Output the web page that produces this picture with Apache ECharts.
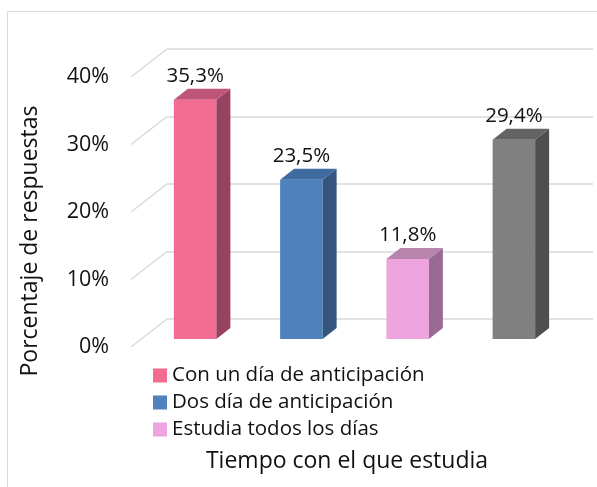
<!DOCTYPE html>
<html>
<head>
<meta charset="utf-8">
<script src="https://cdn.jsdelivr.net/npm/echarts@6/dist/echarts.min.js"></script>
<style>
  html, body { margin: 0; padding: 0; background: #fff; }
  #chart { width: 597px; height: 487px; }
</style>
</head>
<body>
<div id="chart"></div>
<script>
// data
var categories = ['Con un día de anticipación', 'Dos día de anticipación', 'Estudia todos los días', ''];
var values = [35.3, 23.5, 11.8, 29.4];
var yTicks = [0, 10, 20, 30, 40];

// front / top / side colours of each 3D bar
var barColors = [
  ['#F26B90', '#BF5579', '#984262'],
  ['#4F81BD', '#3F6BA1', '#34557F'],
  ['#EEA5DF', '#B884AE', '#9B6A93'],
  ['#808080', '#636363', '#4F4F4F']
];

var FONT = 'Open Sans';
var depth = [14, -11];      // bar depth offset
var wallDepth = [36, -28];  // floor front -> back wall

function fmt(v) {
  return v.toFixed(1).replace('.', ',') + '%';
}

function barRenderer(col) {
  return function (params, api) {
    var base = api.coord([api.value(0), 0]);
    var top = api.coord([api.value(0), api.value(1)]);
    var w = api.size([1, 0])[0] * 0.4;
    var x0 = base[0] - w / 2, x1 = base[0] + w / 2;
    var dx = depth[0], dy = depth[1];
    return {
      type: 'group',
      children: [
        { type: 'rect', shape: { x: x0, y: top[1], width: w, height: base[1] - top[1] }, style: { fill: col[0] } },
        { type: 'polygon', shape: { points: [[x1, top[1]], [x1 + dx, top[1] + dy], [x1 + dx, base[1] + dy], [x1, base[1]]] }, style: { fill: col[2] } },
        { type: 'polygon', shape: { points: [[x0, top[1]], [x0 + dx, top[1] + dy], [x1 + dx, top[1] + dy], [x1, top[1]]] }, style: { fill: col[1] } },
        { type: 'text', x: base[0], y: top[1] + dy - 2,
          style: { text: fmt(api.value(1)), align: 'center', verticalAlign: 'bottom', fontFamily: FONT, fontSize: 20.5, fill: '#111' } }
      ]
    };
  };
}

var series = categories.map(function (name, i) {
  return {
    name: name,
    type: 'custom',
    xAxisIndex: 0,
    yAxisIndex: 0,
    itemStyle: { color: barColors[i][0] },
    renderItem: barRenderer(barColors[i]),
    data: [[i, values[i]]]
  };
});

// diagonal floor-to-wall gridline stubs
series.push({
  type: 'custom',
  xAxisIndex: 1,
  yAxisIndex: 1,
  silent: true,
  z: 0,
  renderItem: function (params, api) {
    var p = api.coord([0, api.value(1)]);
    return {
      type: 'line',
      shape: { x1: p[0], y1: p[1], x2: p[0] + wallDepth[0], y2: p[1] + wallDepth[1] },
      style: { stroke: '#d9d9d9', lineWidth: 1.5 }
    };
  },
  data: yTicks.map(function (v) { return [0, v]; })
});

var chart = echarts.init(document.getElementById('chart'));
chart.setOption({
  animation: false,
  backgroundColor: '#fff',
  grid: [
    { left: 142, right: 30, top: 68, bottom: 148 },   // bar front plane
    { left: 131, right: 30, top: 77, bottom: 140 },   // floor front (labels)
    { left: 167, right: 4, top: 49, bottom: 168 }     // back wall
  ],
  xAxis: [
    { gridIndex: 0, type: 'category', data: categories, show: false },
    { gridIndex: 1, type: 'value', min: 0, max: 1, show: false },
    { gridIndex: 2, type: 'value', min: 0, max: 1, show: false }
  ],
  yAxis: [
    { gridIndex: 0, type: 'value', min: 0, max: 40, interval: 10, show: false },
    { gridIndex: 1, type: 'value', min: 0, max: 40, interval: 10,
      axisLine: { show: false }, axisTick: { show: false }, splitLine: { show: false },
      axisLabel: { formatter: '{value}%', margin: 22, fontFamily: FONT, fontSize: 21.5, color: '#111' } },
    { gridIndex: 2, type: 'value', min: 0, max: 40, interval: 10,
      axisLine: { show: false }, axisTick: { show: false }, axisLabel: { show: false },
      splitLine: { show: true, lineStyle: { color: '#d9d9d9', width: 1.5 } } }
  ],
  legend: {
    data: categories.slice(0, 3),
    orient: 'vertical',
    left: 148,
    top: 360,
    itemWidth: 14,
    itemHeight: 14,
    itemGap: 6,
    icon: 'rect',
    textStyle: { fontFamily: FONT, fontSize: 20.5, lineHeight: 20, color: '#111' }
  },
  graphic: [
    { type: 'rect', shape: { x: 7.5, y: 11.5, width: 600, height: 500 }, style: { fill: 'none', stroke: '#d9d9d9', lineWidth: 1 }, silent: true },
    { type: 'text', x: 30, y: 241, rotation: Math.PI / 2,
      style: { text: 'Porcentaje de respuestas', align: 'center', verticalAlign: 'middle', fontFamily: FONT, fontSize: 23, fill: '#111' } },
    { type: 'text', x: 347, y: 461,
      style: { text: 'Tiempo con el que estudia', align: 'center', verticalAlign: 'middle', fontFamily: FONT, fontSize: 23, fill: '#111' } }
  ],
  series: series
});
</script>
</body>
</html>
